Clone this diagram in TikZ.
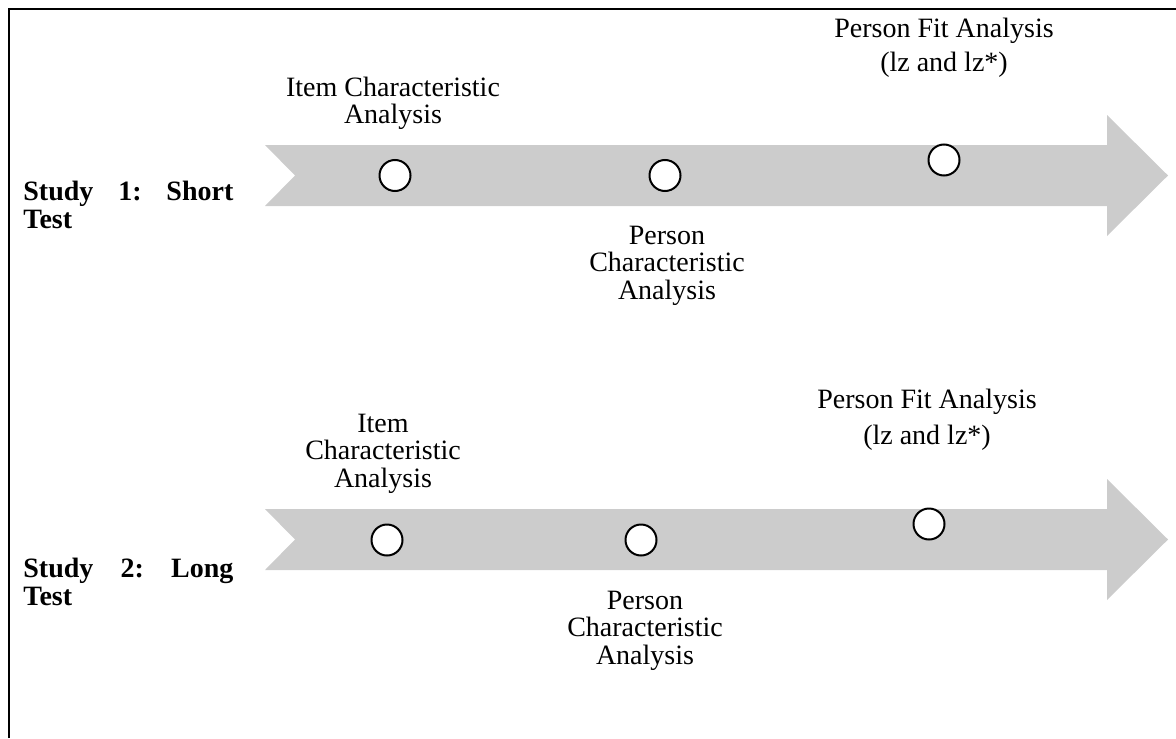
\documentclass[tikz,border=0pt]{standalone}
\usepackage{fontspec}
\setmainfont{Liberation Serif}
\usepackage{xcolor}
\usetikzlibrary{positioning}
\definecolor{bandgray}{HTML}{CCCCCC}

\tikzset{
  stagelabel/.style={font=\fontsize{14}{13.75}\selectfont, align=center, anchor=base, inner sep=0pt},
  studylabel/.style={font=\fontsize{14}{13.75}\selectfont\bfseries, align=left, anchor=base west, inner sep=0pt},
  stagedot/.style={circle, draw=black, line width=1pt, fill=white, minimum size=15.5pt, inner sep=0pt},
  band/.style={fill=bandgray, draw=none}
}

\begin{document}
\begin{tikzpicture}[x=0.5pt, y=-0.5pt]
\useasboundingbox (0,0) rectangle (1176,738);

% --- frame ---
\draw[line width=1.3pt] (9,738) -- (9,9) -- (1176,9);

% --- Study 1: short test ---
\begin{scope}
\fill[band] (265,145) -- (1107,145) -- (1107,115) -- (1168,175.5) -- (1107,236)
  -- (1107,206) -- (265,206) -- (295,175.5) -- cycle;
\node[stagedot] (s1item) at (395,175.5) {};
\node[stagedot] (s1pers) at (665,175.5) {};
\node[stagedot] (s1fit) at (944,160) {};
\node[stagelabel] (s1itemlbl) at (393,124) {Item Characteristic\\Analysis};
\node[stagelabel] (s1perslbl) at (667,299) {Person\\Characteristic\\Analysis};
\node[stagelabel] (s1fitlbl) at (944,72) {Person Fit Analysis\\[3.5pt](lz and lz*)};
\node[studylabel] (s1name) at (23,228) {\makebox[105pt][s]{Study\hfill 1:\hfill Short}\\Test};
\end{scope}

% --- Study 2: long test ---
\begin{scope}[shift={(0,364)}]
\fill[band] (265,145) -- (1107,145) -- (1107,115) -- (1168,175.5) -- (1107,236)
  -- (1107,206) -- (265,206) -- (295,175.5) -- cycle;
\node[stagedot] (s2item) at (387,176) {};
\node[stagedot] (s2pers) at (641,176) {};
\node[stagedot] (s2fit) at (929,160) {};
\node[stagelabel] (s2itemlbl) at (383,123) {Item\\Characteristic\\Analysis};
\node[stagelabel] (s2perslbl) at (645,300) {Person\\Characteristic\\Analysis};
\node[stagelabel] (s2fitlbl) at (927,80) {Person Fit Analysis\\[4pt](lz and lz*)};
\node[studylabel] (s2name) at (23,241) {\makebox[105pt][s]{Study\hfill 2:\hfill Long}\\Test};
\end{scope}

\end{tikzpicture}
\end{document}
